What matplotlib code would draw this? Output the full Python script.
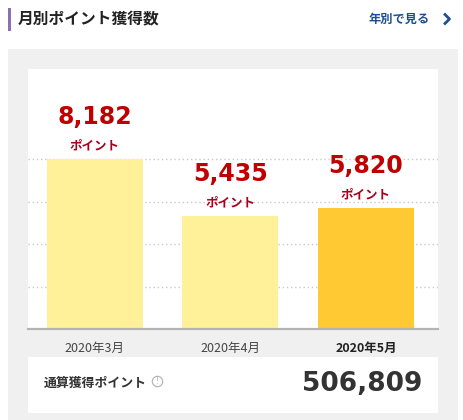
import matplotlib
matplotlib.use('Agg')
import matplotlib.pyplot as plt
from matplotlib.patches import Rectangle
from matplotlib.lines import Line2D

plt.rcParams['font.family'] = ['Noto Sans CJK JP', 'DejaVu Sans']

# data
months = ['2020年3月', '2020年4月', '2020年5月']
points = [8182, 5435, 5820]
bar_colors = ['#fff09a', '#fff09a', '#ffc933']
total_points = 506809
title = '月別ポイント獲得数'
link_text = '年別で見る'
unit = 'ポイント'
total_label = '通算獲得ポイント'

W, H = 464, 420
fig = plt.figure(figsize=(W / 100, H / 100), dpi=100)
fig.patch.set_facecolor('white')


def fx(x):
    return x / W


def fy(y):
    return 1 - y / H


def box(x0, y0, x1, y1, color):
    fig.add_artist(Rectangle((fx(x0), fy(y1)), fx(x1) - fx(x0), fy(y0) - fy(y1),
                             transform=fig.transFigure, facecolor=color,
                             edgecolor='none', zorder=0))


# header
box(8, 8, 11, 31, '#8a70b4')
fig.text(fx(18), fy(19), title, fontsize=11.3, fontweight='bold',
         color='#222222', va='center', ha='left')
fig.text(fx(369), fy(19), link_text, fontsize=8.8, fontweight='bold', color='#1d4f91',
         va='center', ha='left')
fig.add_artist(Line2D([fx(445), fx(449.5), fx(445)], [fy(14.5), fy(19), fy(23.5)],
                      transform=fig.transFigure, color='#1d4f91', linewidth=2))

# grey panel and cards
box(8, 49, 458, 420, '#f0f0f0')
box(28, 357, 438, 413, 'white')

# chart
ax = fig.add_axes([fx(28), fy(329), fx(438) - fx(28), fy(69) - fy(329)])
ax.set_facecolor('white')
xs = list(range(len(points)))
bars = ax.bar(xs, points, width=0.708, color=bar_colors, zorder=3)
ax.set_xlim(-0.494, 2.532)
ymax = max(points)
ax.set_ylim(0, ymax * 1.53)
ax.set_yticks([ymax * k / 4 for k in range(1, 5)])
ax.grid(axis='y', color='#c8c8c8', linestyle=(0, (1, 2)), linewidth=1, zorder=1)
ax.tick_params(axis='y', left=False, labelleft=False)
for s in ['top', 'left', 'right']:
    ax.spines[s].set_visible(False)
ax.spines['bottom'].set_color('#b4b4b4')
ax.spines['bottom'].set_linewidth(1.6)
ax.spines['bottom'].set_zorder(4)

ax.set_xticks(xs)
ax.set_xticklabels(months, fontsize=9, color='#444444')
ax.tick_params(axis='x', length=0, pad=9)
ax.get_xticklabels()[-1].set_fontweight('bold')
ax.get_xticklabels()[-1].set_color('#222222')

for x, v in zip(xs, points):
    ax.annotate(f'{v:,}', (x, v), xytext=(0, 42), textcoords='offset pixels',
                ha='center', va='center', fontsize=17, fontweight='bold',
                color='#c00000', family='DejaVu Sans')
    ax.annotate(unit, (x, v), xytext=(0, 13), textcoords='offset pixels',
                ha='center', va='center', fontsize=9, fontweight='bold',
                color='#a8001c')

# total
fig.text(fx(44), fy(383), total_label, fontsize=9.3, fontweight='bold',
         color='#333333', va='center', ha='left')
fig.add_artist(Line2D([fx(157)], [fy(381)], transform=fig.transFigure,
                      marker='o', markersize=7.5, markerfacecolor='none',
                      markeredgecolor='#b0b0b0', markeredgewidth=0.8))
fig.text(fx(157), fy(381), '!', fontsize=5.5, color='#b0b0b0',
         va='center', ha='center', family='DejaVu Sans')
fig.text(fx(422), fy(384), f'{total_points:,}', fontsize=19, fontweight='bold',
         color='#333333', va='center', ha='right', family='DejaVu Sans')

fig.savefig('out.png', dpi=100)
